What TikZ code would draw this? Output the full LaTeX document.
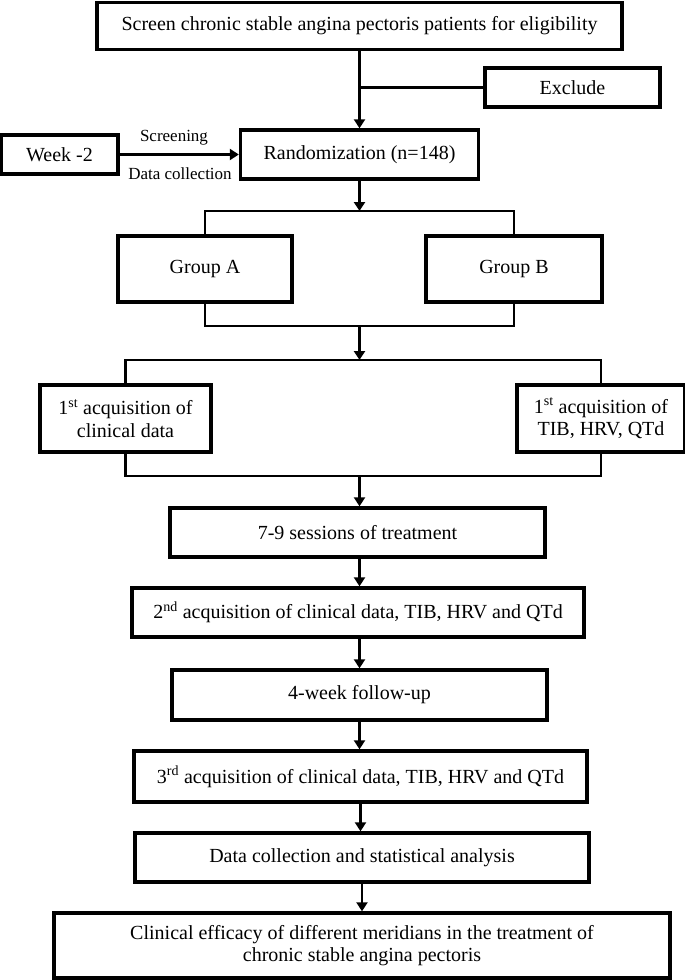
\documentclass[tikz,border=0pt]{standalone}
\usepackage{fontspec}
\setmainfont{Liberation Serif}
\usetikzlibrary{arrows.meta}
\begin{document}
\begin{tikzpicture}[x=1pt,y=-1pt,
  box/.style={draw, line width=3.4pt, inner sep=0pt, align=center,
              font=\fontsize{20}{22.5}\selectfont},
  conn/.style={line width=2.4pt},
  arr/.style={conn, -{Triangle[length=9pt,width=11pt]}},
  lbl/.style={inner sep=0pt, font=\fontsize{17}{20}\selectfont}
]
\useasboundingbox (0,0) rectangle (685,980);

\node[box, minimum width=525pt, minimum height=47pt] (top) at (359.5,26) {Screen chronic stable angina pectoris patients for eligibility};
\node[box, minimum width=175pt, minimum height=39pt] (excl) at (572.5,87.5) {Exclude};
\node[box, minimum width=117pt, minimum height=39pt] (week) at (59.5,154.5) {Week -2};
\node[box, minimum width=238pt, minimum height=49pt] (rand) at (359.5,154.5) {Randomization (n=148)};
\node[lbl] (scr) at (174,138) {Screening};
\node[lbl] (dcol) at (180,173.5) {Data collection};

\node[box, minimum width=174pt, minimum height=66pt] (ga) at (205,269) {Group A};
\node[box, minimum width=176pt, minimum height=66pt] (gb) at (514,269) {Group B};

\node[box, minimum width=171pt, minimum height=67pt] (acqA) at (125.5,418.5) {1\textsuperscript{st} acquisition of\\clinical data};
\node[box, minimum width=168pt, minimum height=67pt] (acqB) at (601,418.5) {1\textsuperscript{st} acquisition of\\TIB, HRV, QTd};

\node[box, minimum width=375pt, minimum height=49pt] (sess) at (357.5,532.5) {7-9 sessions of treatment};
\node[box, minimum width=452pt, minimum height=49pt] (acq2) at (358,612.5) {2\textsuperscript{nd} acquisition of clinical data, TIB, HRV and QTd};
\node[box, minimum width=375pt, minimum height=50pt] (fu) at (359.5,695) {4-week follow-up};
\node[box, minimum width=453pt, minimum height=51pt] (acq3) at (360.5,776.5) {3\textsuperscript{rd} acquisition of clinical data, TIB, HRV and QTd};
\node[box, minimum width=454pt, minimum height=49pt] (data) at (362,857.5) {Data collection and statistical analysis};
\node[box, minimum width=616pt, minimum height=65pt] (final) at (362,945.5) {Clinical efficacy of different meridians in the treatment of\\chronic stable angina pectoris};

\coordinate (b1) at (359.5,211);
\coordinate (b2) at (359.5,326);
\coordinate (b3) at (359.5,360);
\coordinate (b4) at (359.5,476);

\draw[arr] (top.south) -- (top.south |- rand.north);
\draw[conn] (excl.west) -- (excl.west -| top.south);
\draw[arr] (week.east) -- (rand.west);

\draw[arr] (rand.south) -- (b1);
\draw[conn] (ga.north) |- (b1) -| (gb.north);
\draw[conn] (ga.south) |- (b2) -| (gb.south);
\draw[arr] (b2) -- (b3);
\draw[conn] (acqA.north) |- (b3) -| (acqB.north);
\draw[conn] (acqA.south) |- (b4) -| (acqB.south);
\draw[arr] (b4) -- (b4 |- sess.north);

\draw[arr] (b4 |- sess.south) -- (b4 |- acq2.north);
\draw[arr] (b4 |- acq2.south) -- (b4 |- fu.north);
\draw[arr] (fu.south) -- (fu.south |- acq3.north);
\draw[arr] ([xshift=1pt]fu.south |- acq3.south) -- ([xshift=1pt]fu.south |- data.north);
\draw[arr] (data.south) -- (data.south |- final.north);
\end{tikzpicture}
\end{document}
